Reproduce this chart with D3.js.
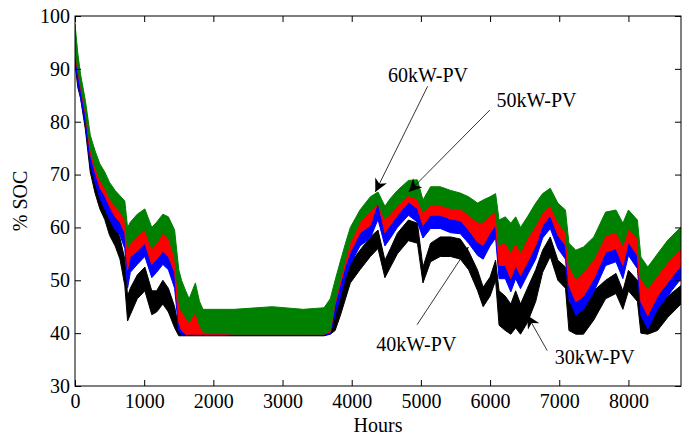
<!DOCTYPE html>
<meta charset="utf-8">
<head>
  <title>SOC over a year</title>
</head>
<style>
body { margin: 0; background: #fff; }
svg text { font-family: "Liberation Serif", "Times New Roman", serif; font-size: 20px; fill: #000; }
.axis path { display: none; }
.axis line { stroke: #000; stroke-width: 1; }
</style>
<body>
<svg width="689" height="436"></svg>
<script src="https://cdnjs.cloudflare.com/ajax/libs/d3/7.8.5/d3.min.js"></script>
<script>
var hours = [0, 40, 80, 150, 220, 290, 360, 430, 500, 580,
  650, 720, 760, 800, 900, 1010, 1110, 1180, 1270, 1350,
  1440, 1500, 1540, 1600, 1650, 1740, 1800, 1850, 2300, 2850,
  3300, 3600, 3690, 3760, 3840, 3910, 3980, 4120, 4270, 4380,
  4480, 4560, 4660, 4820, 4950, 5030, 5140, 5280, 5430, 5570,
  5690, 5820, 5900, 6000, 6080, 6130, 6220, 6300, 6370, 6440,
  6540, 6660, 6760, 6870, 6980, 7090, 7140, 7240, 7350, 7500,
  7670, 7820, 7920, 8000, 8130, 8180, 8280, 8420, 8570, 8760];

// 60kW-PV (green) upper / lower envelope
var pv60Hi = [98.5, 93, 89, 84, 77.5, 74.5, 72, 70.5, 68.5, 67,
  66, 65, 60, 61, 62.5, 63.5, 60, 61, 62.5, 62,
  59.5, 52, 50, 48, 46.5, 49.5, 46, 44.5, 44.5, 45,
  44.5, 44.8, 46.5, 50, 53.8, 57, 60, 63.3, 65.8, 66.7,
  64, 65.5, 67, 68.9, 69, 65.2, 67.7, 67.7, 67, 66.5,
  65.8, 64.6, 65.2, 65.8, 66.4, 61.4, 62, 60.8, 62, 60,
  62, 64.6, 66.4, 67.4, 64.6, 63.3, 57, 55.7, 56.3, 58.2,
  62.9, 63.3, 60.8, 63.3, 61.4, 54.4, 52.5, 55, 57.6, 60.1];
var pv60Lo = [94, 90, 87, 82, 75, 71.5, 69, 67.5, 65.5, 64,
  63, 61.5, 56, 57, 58.5, 59.5, 56, 57, 59, 58,
  54.5, 46, 44, 43, 42, 44, 41.5, 40.2, 39.8, 39.8,
  39.8, 39.8, 40.5, 46, 50.5, 54, 57.2, 61, 63, 64.5,
  61.6, 62.5, 64.2, 66, 65.4, 62.9, 64.2, 64.2, 63.6, 63.6,
  62.3, 61, 61, 62.3, 62.9, 56.6, 57.2, 55.3, 57.2, 55.3,
  57.9, 60.4, 62.9, 64.2, 61, 59, 52.8, 50.3, 51.5, 54,
  58.5, 59.1, 56.6, 59.8, 57.9, 50.3, 48.4, 50.9, 53.4, 56];

// 50kW-PV (red)
var pv50Hi = [96, 91.5, 88, 83, 76, 72.5, 70, 68.5, 66.5, 65,
  64, 62.5, 57, 58, 59.5, 60.5, 57, 58, 60, 59,
  55.5, 48, 46, 45, 43.5, 46.5, 43, 41.5, 41, 41.2,
  41, 41.5, 43, 48, 51.5, 55, 58.2, 62, 63.9, 66.4,
  62.6, 63.5, 65.2, 67, 66.4, 63.9, 65.2, 65.2, 64.6, 64.6,
  63.3, 62, 62, 63.3, 63.9, 57.6, 58.2, 56.3, 58.2, 56.3,
  58.9, 61.4, 63.9, 65.2, 62, 60, 53.8, 51.3, 52.5, 55,
  59.5, 60.1, 57.6, 60.8, 58.9, 51.3, 49.4, 51.9, 54.4, 57];
var pv50Lo = [93, 89.5, 86.5, 81.5, 74, 70.5, 67.5, 66, 64, 62,
  61, 59, 52, 54.5, 55.5, 57, 53, 54, 55.5, 54.5,
  51.5, 42, 40.5, 39.8, 39.8, 39.8, 39.8, 39.8, 39.8, 39.8,
  39.8, 39.8, 40.2, 45.5, 49.5, 52.8, 55.3, 59, 60.4, 64.8,
  59, 60.5, 62.3, 64.8, 63.6, 60.4, 62.3, 62.3, 61.6, 61.3,
  59.5, 57.2, 56.6, 59, 60.4, 52.8, 52.8, 50.3, 52.8, 50.9,
  53.4, 56.6, 60.4, 62.3, 58.5, 56.6, 49, 45.9, 47, 50.3,
  55.3, 56, 52.8, 57.2, 54.7, 45.9, 43.3, 47, 49.6, 52.8];

// 40kW-PV (blue)
var pv40Hi = [95, 90.5, 87.5, 82.5, 75, 71.5, 68.5, 67, 65, 63,
  62, 60, 53, 55.5, 56.5, 58, 54, 55, 56.5, 55.5,
  52.5, 44, 43, 42, 41, 42, 41, 40.5, 40.6, 40.8,
  40.6, 41, 42, 47, 50.5, 53.8, 56.3, 60, 61.4, 65.8,
  60, 61.5, 63.3, 65.8, 64.6, 61.4, 63.3, 63.3, 62.6, 62.3,
  60.5, 58.2, 57.6, 60, 61.4, 53.8, 53.8, 51.3, 53.8, 51.9,
  54.4, 57.6, 61.4, 63.3, 59.5, 57.6, 50, 46.9, 48, 51.3,
  56.3, 57, 53.8, 58.2, 55.7, 46.9, 44.3, 48, 50.6, 53.8];
var pv40Lo = [92, 87.5, 84.5, 79.5, 72, 68.5, 65.5, 63.5, 61.5, 59.5,
  58.5, 56, 48.5, 51.5, 53, 54.5, 50.5, 51.5, 53, 52,
  48.5, 40.5, 39.8, 39.8, 39.8, 39.8, 39.8, 39.8, 39.8, 39.8,
  39.8, 39.8, 39.8, 43.5, 47, 50.5, 53, 56.5, 58, 61.5,
  56.5, 58, 60, 62.3, 61, 58, 59.8, 59.8, 59, 58.8,
  57, 54.7, 54, 56.5, 58, 50.3, 50.3, 47.8, 50.3, 48.4,
  51, 54, 58, 59.8, 56, 54, 46.5, 43.4, 44.5, 47.8,
  52.8, 53.5, 50.3, 54.7, 52.2, 43.4, 40.8, 44.5, 47.1, 50.3];

// 30kW-PV (black)
var pv30Hi = [94, 89.5, 87, 81.5, 74, 70, 67, 65, 62.5, 60.5,
  58, 54, 47, 48.5, 51, 52.5, 48, 48, 50, 48.5,
  45, 41, 40.5, 40.5, 40.5, 40.3, 40.3, 40.3, 40.3, 40.3,
  40.3, 40.5, 41, 45, 47.5, 50.6, 53.2, 55.7, 58.2, 59.5,
  53.8, 56, 58.9, 61.4, 60.8, 52.5, 57, 58.2, 58.2, 57.8,
  55.5, 51.9, 48.7, 50.6, 53.8, 48, 47, 45.5, 48, 45.5,
  48.5, 52, 55.7, 58.2, 53.8, 52.5, 46, 45, 45.5, 48,
  50, 51.3, 48, 51.9, 50, 45, 44, 46, 47, 49];
var pv30Lo = [91, 86.5, 84.5, 78.5, 70.5, 66.5, 63.5, 61.5, 58.5, 56.5,
  54, 49, 42.3, 43.5, 46.5, 48, 43.5, 44, 45.5, 44,
  41, 39.5, 39.5, 39.5, 39.5, 39.5, 39.5, 39.5, 39.5, 39.5,
  39.5, 39.5, 39.8, 40.5, 43.5, 46.5, 49.5, 52, 54.5, 56,
  50.5, 52.5, 55, 57.5, 57, 49.5, 53.5, 54.5, 54.5, 54,
  52, 48, 45, 47, 50, 41.5, 40.5, 39.8, 41, 39.8,
  42, 46, 51.5, 54.5, 50, 48.5, 40.5, 39.8, 39.8, 42.5,
  46.5, 47.5, 44.5, 48, 46, 40, 39.8, 40.5, 43, 45.5];

var xTicks = [0, 1000, 2000, 3000, 4000, 5000, 6000, 7000, 8000];
var yTicks = [30, 40, 50, 60, 70, 80, 90, 100];

// annotation label, text anchor point and arrow tail/tip in data units
var notes = [
  {label: "60kW-PV", tx: 4524, ty: 87.6, x1: 5098, y1: 86.7, x2: 4341, y2: 66.7},
  {label: "50kW-PV", tx: 6093, ty: 82.8, x1: 5996, y1: 82.2, x2: 4823, y2: 66.7},
  {label: "40kW-PV", tx: 4356, ty: 36.7, x1: 4945, y1: 41.6, x2: 5687, y2: 56.3},
  {label: "30kW-PV", tx: 6936, ty: 34.1, x1: 6826, y1: 36.7, x2: 6537, y2: 43.4}
];

var series = [
  {name: "30kW-PV", hi: pv30Hi, lo: pv30Lo, color: "#000000"},
  {name: "40kW-PV", hi: pv40Hi, lo: pv40Lo, color: "#0000ff"},
  {name: "50kW-PV", hi: pv50Hi, lo: pv50Lo, color: "#ff0000"},
  {name: "60kW-PV", hi: pv60Hi, lo: pv60Lo, color: "#008000"}
];

var margin = {top: 16, right: 8, bottom: 50, left: 75};
var width = 689 - margin.left - margin.right;
var height = 436 - margin.top - margin.bottom;

var svg = d3.select("svg");
var g = svg.append("g").attr("transform", "translate(" + margin.left + "," + margin.top + ")");

var x = d3.scaleLinear().domain([0, 8760]).range([0, width]);
var y = d3.scaleLinear().domain([30, 100]).range([height, 0]);

var defs = svg.append("defs");
defs.append("clipPath").attr("id", "plot")
  .append("rect").attr("width", width).attr("height", height);

defs.append("marker")
  .attr("id", "head")
  .attr("viewBox", "0 0 10 10")
  .attr("refX", 10).attr("refY", 5)
  .attr("markerWidth", 15).attr("markerHeight", 13)
  .attr("markerUnits", "userSpaceOnUse")
  .attr("orient", "auto")
  .append("path").attr("d", "M0,0 L10,5 L0,10 L3,5 Z").attr("fill", "#000");

var area = d3.area()
  .x(function(d, i) { return x(hours[i]); })
  .y0(function(d) { return y(d[0]); })
  .y1(function(d) { return y(d[1]); });

var plot = g.append("g").attr("clip-path", "url(#plot)");

series.forEach(function(s) {
  var band = s.hi.map(function(v, i) { return [s.lo[i], v]; });
  plot.append("path")
    .datum(band)
    .attr("fill", s.color)
    .attr("stroke", s.color)
    .attr("stroke-width", 1)
    .attr("d", area);
});

// axes with inward ticks on all four sides
g.append("g").attr("class", "axis")
  .attr("transform", "translate(0," + height + ")")
  .call(d3.axisBottom(x).tickValues(xTicks).tickSize(-6).tickPadding(8).tickFormat(d3.format("d")));
g.append("g").attr("class", "axis")
  .call(d3.axisTop(x).tickValues(xTicks).tickSize(-6).tickFormat(""));
g.append("g").attr("class", "axis")
  .call(d3.axisLeft(y).tickValues(yTicks).tickSize(-6).tickPadding(5).tickFormat(d3.format("d")));
g.append("g").attr("class", "axis")
  .attr("transform", "translate(" + width + ",0)")
  .call(d3.axisRight(y).tickValues(yTicks).tickSize(-6).tickFormat(""));

g.selectAll(".axis text").style("font-size", "20px").style("font-family", "'Liberation Serif', 'Times New Roman', serif");

g.append("rect")
  .attr("width", width).attr("height", height)
  .attr("fill", "none").attr("stroke", "#000").attr("stroke-width", 1);

// annotations
notes.forEach(function(n) {
  g.append("line")
    .attr("x1", x(n.x1)).attr("y1", y(n.y1))
    .attr("x2", x(n.x2)).attr("y2", y(n.y2))
    .attr("stroke", "#000").attr("stroke-width", 0.8)
    .attr("marker-end", "url(#head)");
  g.append("text")
    .attr("x", x(n.tx)).attr("y", y(n.ty))
    .text(n.label);
});

g.append("text")
  .attr("x", width / 2).attr("y", height + 46)
  .attr("text-anchor", "middle")
  .text("Hours");

g.append("text")
  .attr("transform", "translate(-48," + height / 2 + ") rotate(-90)")
  .attr("text-anchor", "middle")
  .text("% SOC");
</script>
</body>
</html>
